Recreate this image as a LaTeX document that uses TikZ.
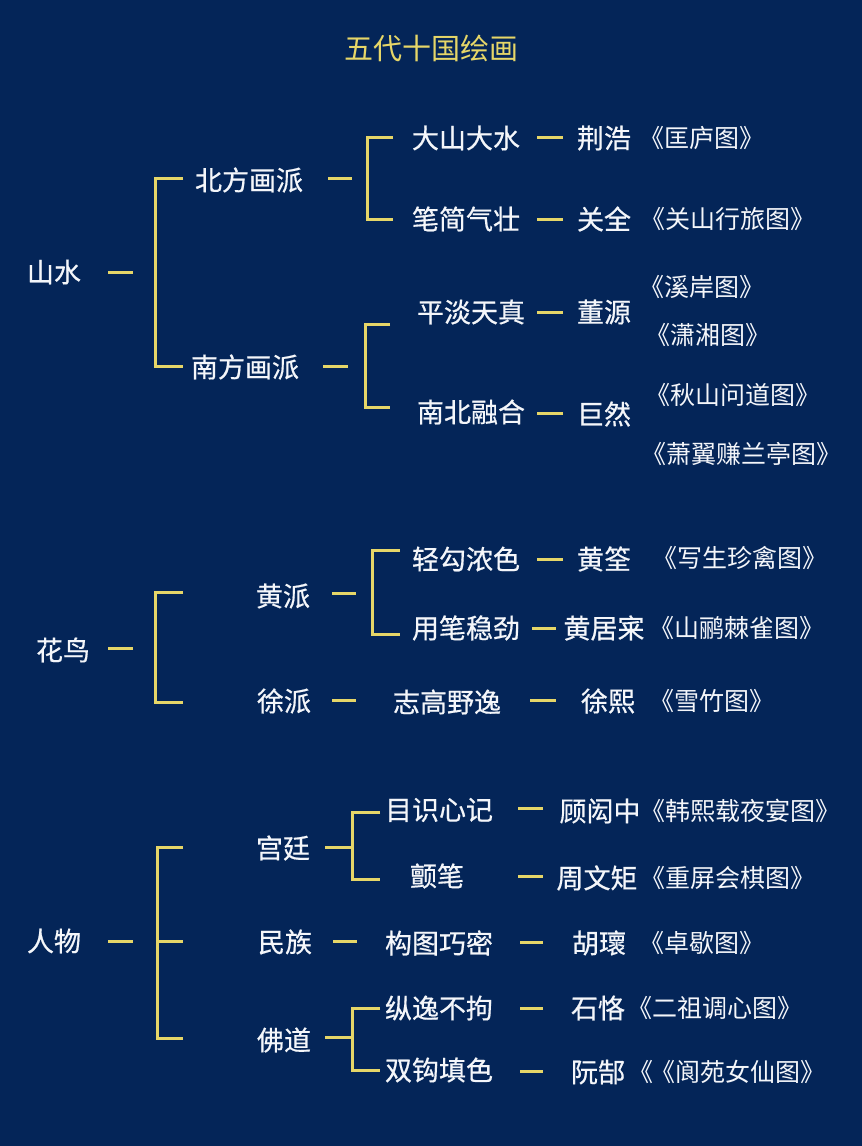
\documentclass[tikz,border=0pt]{standalone}
\usepackage{fontspec}
\newfontfamily\cjkm[FakeBold=0.6]{Noto Sans CJK SC}
\newfontfamily\cjk{Noto Sans CJK SC}
\newfontfamily\cjkbook[RawFeature=+halt]{Noto Sans CJK SC}
\definecolor{bg}{RGB}{4,37,88}
\definecolor{gold}{RGB}{230,214,104}
\definecolor{txt}{RGB}{244,246,250}
\begin{document}
\begin{tikzpicture}[x=1pt,y=-1pt,
  main/.style={text=txt,inner sep=0pt,font=\cjkm\fontsize{27}{27}\selectfont},
  book/.style={text=txt,inner sep=0pt,font=\cjkbook\fontsize{25}{25}\selectfont},
  ttl/.style={text=gold,inner sep=0pt,font=\cjk\fontsize{29}{29}\selectfont},
  link/.style={draw=gold,line width=3pt}]
\fill[bg] (0,0) rectangle (862,1146);
\useasboundingbox (0,0) rectangle (862,1146);

\node[ttl] (title) at (431,48) {五代十国绘画};

% ---------- 山水 ----------
\node[main] (sx) at (54,272) {山水};
\node[main] (bf) at (249,180) {北方画派};
\node[main] (nf) at (245,367) {南方画派};
\node[main] (dsds) at (466,138) {大山大水};
\node[main] (bjqz) at (466,219) {笔简气壮};
\node[main] (pdtz) at (471,312) {平淡天真};
\node[main] (nbrh) at (471,412) {南北融合};
\node[main] (jh) at (604,138) {荆浩};
\node[main] (gq) at (604,219) {关全};
\node[main] (dy) at (604,312) {董源};
\node[main] (jr) at (604,414) {巨然};
\node[book] (w1) at (702,138) {《匡庐图》};
\node[book] (w2) at (728,219) {《关山行旅图》};
\node[book] (w3) at (702,287) {《溪岸图》};
\node[book] (w4) at (708,335) {《潇湘图》};
\node[book] (w5) at (733,395) {《秋山问道图》};
\node[book] (w6) at (741,454) {《萧翼赚兰亭图》};

\draw[link] (108,272) coordinate (a1) -- (133,272) coordinate (a2);
\draw[link] (183,178) coordinate (b1a) -- (155,178) -- (155,366) -- (183,366) coordinate (b1b);
\draw[link] (328,178) coordinate (a3) -- (352,178) coordinate (a4);
\draw[link] (323,366) coordinate (a5) -- (348,366) coordinate (a6);
\draw[link] (393,137) coordinate (b2a) -- (367,137) -- (367,219) -- (393,219) coordinate (b2b);
\draw[link] (390,324) coordinate (b3a) -- (365,324) -- (365,407) -- (390,407) coordinate (b3b);
\draw[link] (537,137) -- (563,137);
\draw[link] (537,219) -- (563,219);
\draw[link] (537,312) -- (563,312);
\draw[link] (537,413) -- (563,413);

% ---------- 花鸟 ----------
\node[main] (hn) at (63,650) {花鸟};
\node[main] (hp) at (283,596) {黄派};
\node[main] (xp) at (284,701) {徐派};
\node[main] (qg) at (466,559) {轻勾浓色};
\node[main] (yb) at (466,628) {用笔稳劲};
\node[main] (zg) at (447,702) {志高野逸};
\node[main] (hq) at (604,559) {黄筌};
\node[main] (hjb) at (604,628) {黄居宷};
\node[main] (xx) at (608,701) {徐熙};
\node[book] (w7) at (740,558) {《写生珍禽图》};
\node[book] (w8) at (737,628) {《山鹂棘雀图》};
\node[book] (w9) at (712,701) {《雪竹图》};

\draw[link] (108,648) -- (133,648);
\draw[link] (183,592) -- (155,592) -- (155,702) -- (183,702);
\draw[link] (332,593) -- (356,593);
\draw[link] (400,550) -- (372,550) -- (372,634) -- (400,634);
\draw[link] (332,700) -- (356,700);
\draw[link] (537,559) -- (563,559);
\draw[link] (532,628) -- (556,628);
\draw[link] (530,700) -- (556,700);

% ---------- 人物 ----------
\node[main] (rw) at (54,941) {人物};
\node[main] (gt) at (283,848) {宫廷};
\node[main] (mz) at (285,942) {民族};
\node[main] (fd) at (284,1040) {佛道};
\node[main] (msxj) at (439,810) {目识心记};
\node[main] (cb) at (437,876) {颤笔};
\node[main] (gtqm) at (439,943) {构图巧密};
\node[main] (zybj) at (439,1008) {纵逸不拘};
\node[main] (sgts) at (439,1070) {双钩填色};
\node[main] (ghz) at (600,811) {顾闳中};
\node[main] (zwj) at (597,878) {周文矩};
\node[main] (hh) at (599,943) {胡瓌};
\node[main] (sk) at (598,1008) {石恪};
\node[main] (rg) at (598,1072) {阮郜};
\node[book] (w10) at (740,811) {《韩熙载夜宴图》};
\node[book] (w11) at (728,878) {《重屏会棋图》};
\node[book] (w12) at (702,943) {《卓歇图》};
\node[book] (w13) at (715,1008) {《二祖调心图》};
\node[book] (w14) at (727,1072) {《\hspace{0.4em}《阆苑女仙图》};

\draw[link] (108,941) -- (133,941);
\draw[link] (183,847) -- (157,847) -- (157,1038) -- (183,1038);
\draw[link] (157,941) -- (183,941);
\draw[link] (325,847) -- (352,847);
\draw[link] (380,812) -- (352,812) -- (352,879) -- (380,879);
\draw[link] (333,941) -- (357,941);
\draw[link] (325,1037) -- (352,1037);
\draw[link] (380,1008) -- (352,1008) -- (352,1070) -- (380,1070);
\draw[link] (518,808) -- (543,808);
\draw[link] (518,876) -- (543,876);
\draw[link] (520,942) -- (543,942);
\draw[link] (520,1008) -- (543,1008);
\draw[link] (520,1071) -- (543,1071);
\end{tikzpicture}
\end{document}
